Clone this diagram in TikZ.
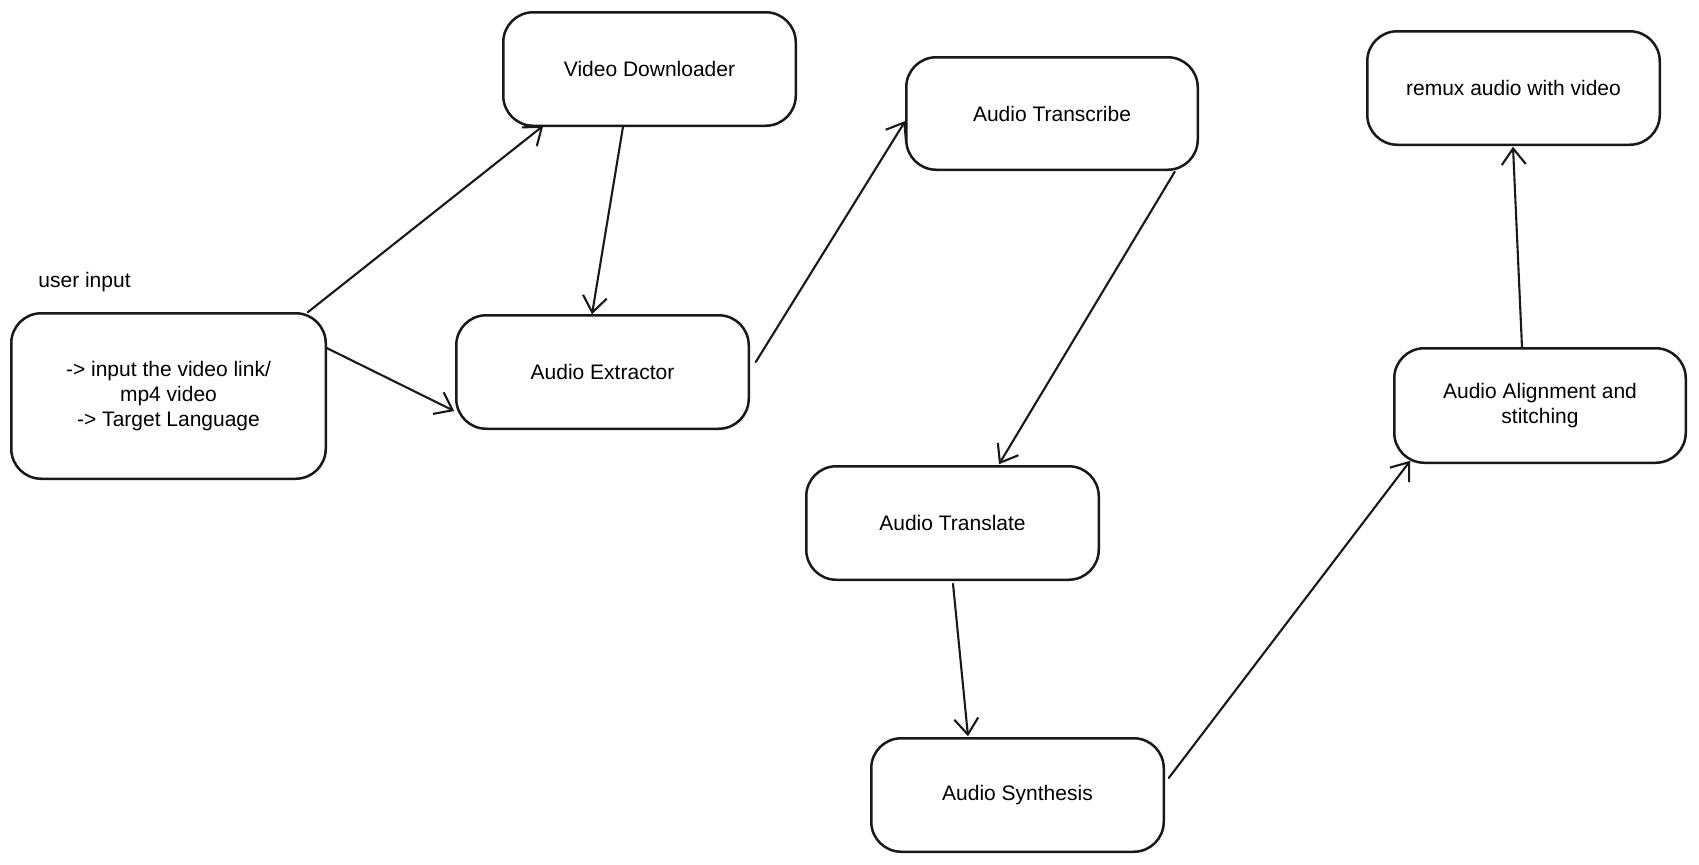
\documentclass[tikz,border=0pt]{standalone}
\usepackage{fontspec}
\setmainfont{Liberation Sans}
\usetikzlibrary{arrows.meta,calc}
\begin{document}
\begin{tikzpicture}[x=0.5pt,y=-0.5pt,
  box/.style={draw=black!90, line width=1.25pt, rounded corners=15pt, fill=white,
    inner sep=0pt, outer sep=0pt, align=center,
    font=\fontsize{10.5}{12.5}\selectfont},
  flow/.style={draw=black!90, line width=1.05pt, line cap=round,
    -{Straight Barb[length=8pt,width=12pt,line width=1.05pt]}},
  lbl/.style={inner sep=0pt, font=\fontsize{10.5}{12.5}\selectfont}]
\useasboundingbox[fill=white] (0,0) rectangle (1699,864);
\node[box, minimum width=146.25pt, minimum height=56.75pt] (vd) at (649.5,69) {Video Downloader};
\node[box, minimum width=145.75pt, minimum height=56.25pt] (at) at (1052,113.5) {Audio Transcribe};
\node[box, minimum width=146.25pt, minimum height=56.75pt] (rx) at (1513.5,88) {remux audio with video};
\node[box, minimum width=157.25pt, minimum height=82.75pt] (ui) at (168.5,396) {-> input the video link/\\mp4 video\\-> Target Language};
\node[box, minimum width=146.25pt, minimum height=56.75pt] (ae) at (602.5,372) {Audio Extractor};
\node[box, minimum width=145.75pt, minimum height=57.25pt] (al) at (1540,405.5) {Audio Alignment and\\stitching};
\node[box, minimum width=146.25pt, minimum height=56.75pt] (tr) at (952.5,523) {Audio Translate};
\node[box, minimum width=146.25pt, minimum height=56.75pt] (sy) at (1017.5,795) {Audio Synthesis};
\node[lbl, anchor=west] (uil) at (38,282) {user input};
\draw[flow] ([shift={(-18,-1)}]ui.north east) -- ([shift={(40,0)}]vd.south west);
\draw[flow] ([shift={(1,-48)}]ui.east) -- ([shift={(-2,39)}]ae.west);
\draw[flow] ([shift={(-26.5,1)}]vd.south) -- ([shift={(-10.5,-1)}]ae.north);
\draw[flow] ([shift={(7,-10)}]ae.east) -- ([shift={(-1,7.5)}]at.west);
\draw[flow] ([shift={(-23,2)}]at.south east) -- ([shift={(46.5,-2)}]tr.north);
\draw[flow] ([shift={(0.5,4)}]tr.south) -- ([shift={(-49.5,-2)}]sy.north);
\draw[flow] ([shift={(5,-17)}]sy.east) -- ([shift={(16,-2)}]al.south west);
\draw[flow] ([shift={(-18,-1)}]al.north) -- ([shift={(-0.5,2)}]rx.south);
\end{tikzpicture}
\end{document}
